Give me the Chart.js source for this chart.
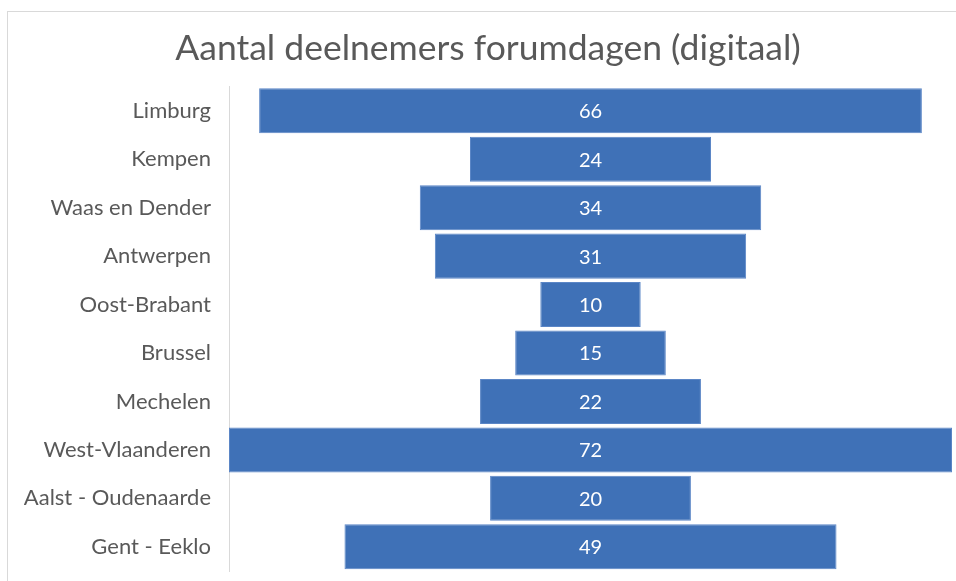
<!DOCTYPE html>
<html>
<head>
<meta charset="utf-8">
<script src="https://cdn.jsdelivr.net/npm/chart.js@4/dist/chart.umd.min.js"></script>
<style>
  html, body { margin: 0; padding: 0; background: #fff; overflow: hidden; }
  #frame { position: absolute; left: 7px; top: 11px; width: 948px; height: 570px;
           border-left: 1px solid #d9d9d9; border-top: 1px solid #d9d9d9; }
  #wrap { position: absolute; left: 0; top: 0; width: 956px; height: 581px; }
</style>
</head>
<body>
<div id="frame"></div>
<div id="wrap"><canvas id="chart" width="956" height="581"></canvas></div>
<script>
// Gegevens
const regions = ['Limburg', 'Kempen', 'Waas en Dender', 'Antwerpen', 'Oost-Brabant',
  'Brussel', 'Mechelen', 'West-Vlaanderen', 'Aalst - Oudenaarde', 'Gent - Eeklo'];
const participants = [66, 24, 34, 31, 10, 15, 22, 72, 20, 49];

const FONT = 'Lato, "Open Sans", sans-serif';
const BLUE = '#3f71b7';

// Waarden in de balken
const valueLabels = {
  id: 'valueLabels',
  afterDatasetsDraw(chart) {
    const ctx = chart.ctx;
    const meta = chart.getDatasetMeta(0);
    ctx.save();
    ctx.fillStyle = '#ffffff';
    ctx.font = '20px ' + FONT;
    ctx.textAlign = 'center';
    ctx.textBaseline = 'middle';
    meta.data.forEach((bar, i) => {
      const p = bar.getCenterPoint();
      ctx.fillText(String(participants[i]), p.x, p.y + 1);
    });
    ctx.restore();
  }
};

new Chart(document.getElementById('chart'), {
  type: 'bar',
  data: {
    labels: regions,
    datasets: [{
      data: participants.map(v => [-v / 2, v / 2]),
      backgroundColor: BLUE,
      borderColor: '#5b86c6',
      borderWidth: 1,
      borderSkipped: false,
      barPercentage: 0.93,
      categoryPercentage: 1
    }]
  },
  options: {
    indexAxis: 'y',
    responsive: false,
    animation: false,
    layout: { padding: { left: 24, right: 4, bottom: 10 } },
    plugins: {
      legend: { display: false },
      tooltip: { enabled: false },
      title: {
        display: true,
        text: 'Aantal deelnemers forumdagen (digitaal)',
        color: '#595959',
        font: { family: FONT, size: 35.5, weight: 'normal' },
        padding: { top: 27, bottom: 17 }
      }
    },
    scales: {
      x: { display: false, min: -36, max: 36 },
      y: {
        grid: { display: false },
        border: { display: true, color: '#d9d9d9', width: 1 },
        ticks: { color: '#595959', font: { family: FONT, size: 22 }, padding: 10 },
        afterFit(scale) {
          scale.width = 205;
          scale.paddingTop = 0;
          scale.paddingBottom = 0;
        }
      }
    }
  },
  plugins: [valueLabels]
});
</script>
</body>
</html>
